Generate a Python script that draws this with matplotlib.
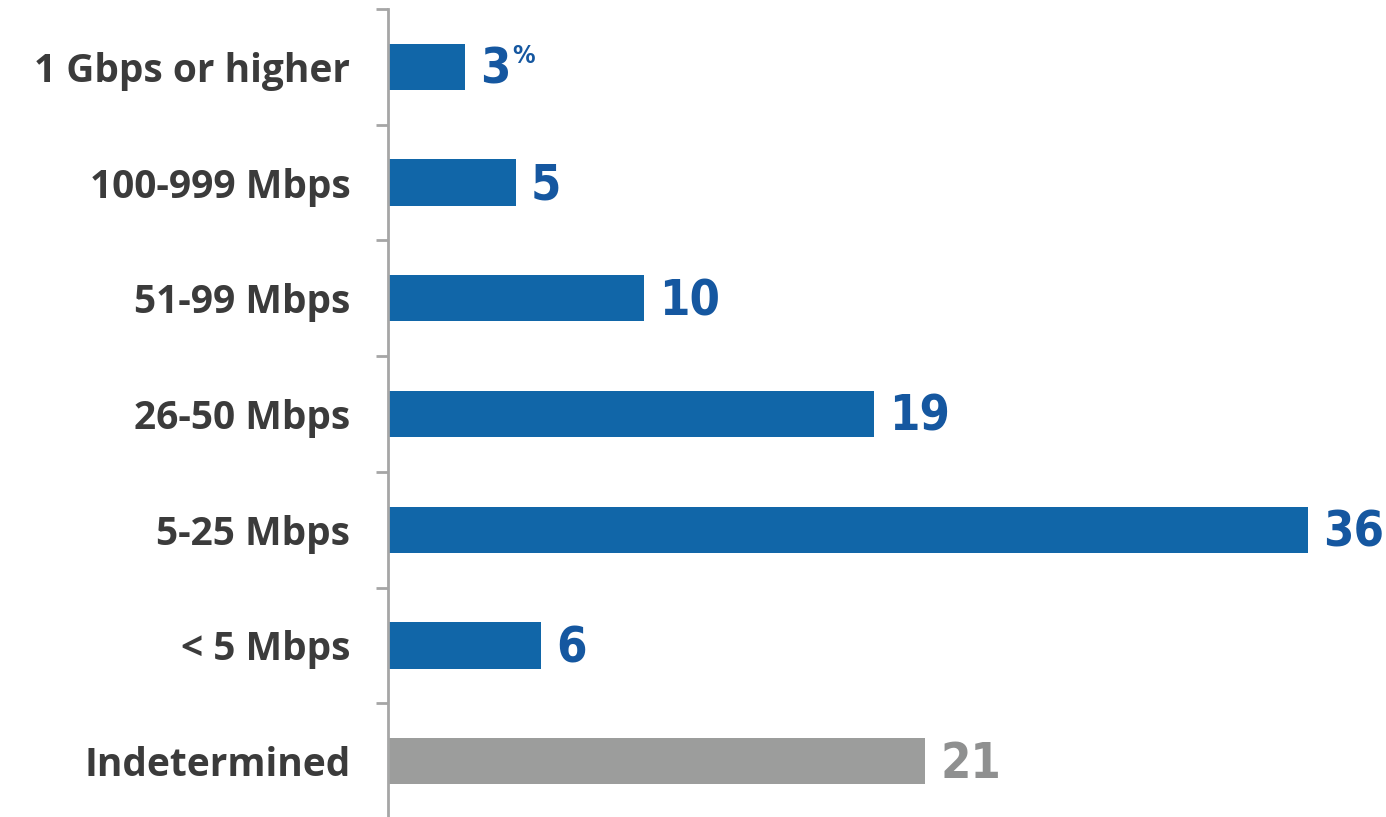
import matplotlib
matplotlib.use("Agg")
import matplotlib.pyplot as plt
from matplotlib.ticker import FixedLocator

# data, top to bottom
categories = ["1 Gbps or higher", "100-999 Mbps", "51-99 Mbps", "26-50 Mbps",
              "5-25 Mbps", "< 5 Mbps", "Indetermined"]
values = [3, 5, 10, 19, 36, 6, 21]
is_blue = [True, True, True, True, True, True, False]

BLUE = "#1166a8"
BLUE_TXT = "#1557a0"
GREY = "#9c9d9c"
GREY_TXT = "#8f9090"
AXIS = "#a6a6a6"
LABEL = "#3b3b3b"

W, H = 1386, 817
fig = plt.figure(figsize=(W / 100, H / 100), dpi=100)
ax = fig.add_axes([388 / W, -2 / H, (W - 388) / W, 810 / H])

ypos = list(range(len(categories)))
colors = [BLUE if b else GREY for b in is_blue]
ax.barh(ypos, values, height=0.4, color=colors, zorder=2)

ax.set_xlim(0, (W - 388) / 25.56)
ax.set_ylim(6.5, -0.5)

for sp in ["top", "right", "bottom"]:
    ax.spines[sp].set_visible(False)
ax.spines["left"].set_color(AXIS)
ax.spines["left"].set_linewidth(2)
ax.set_xticks([])

ax.set_yticks(ypos)
ax.set_yticklabels(categories, fontsize=28, fontweight="bold", color=LABEL,
                   family=["Open Sans", "DejaVu Sans"])
ax.tick_params(axis="y", which="major", length=0, pad=27)
ax.yaxis.set_minor_locator(FixedLocator([i - 0.5 for i in range(len(categories))]))
ax.tick_params(axis="y", which="minor", length=8.6, width=2, color=AXIS)

# condensed figures for the value labels
val_font = ["DejaVu Sans"]
for i, (v, b) in enumerate(zip(values, is_blue)):
    c = BLUE_TXT if b else GREY_TXT
    ax.annotate(str(v), xy=(v, i), xytext=(11, -2), textcoords="offset points",
                ha="left", va="center", fontsize=35, fontweight="bold",
                fontstretch="condensed", color=c, family=val_font,
                annotation_clip=False)
    if i == 0:
        ax.annotate("%", xy=(v, i), xytext=(34, 8), textcoords="offset points",
                    ha="left", va="center", fontsize=18, fontweight="bold",
                    fontstretch="condensed", color=c, family=val_font)

fig.savefig("out.png", dpi=100)
